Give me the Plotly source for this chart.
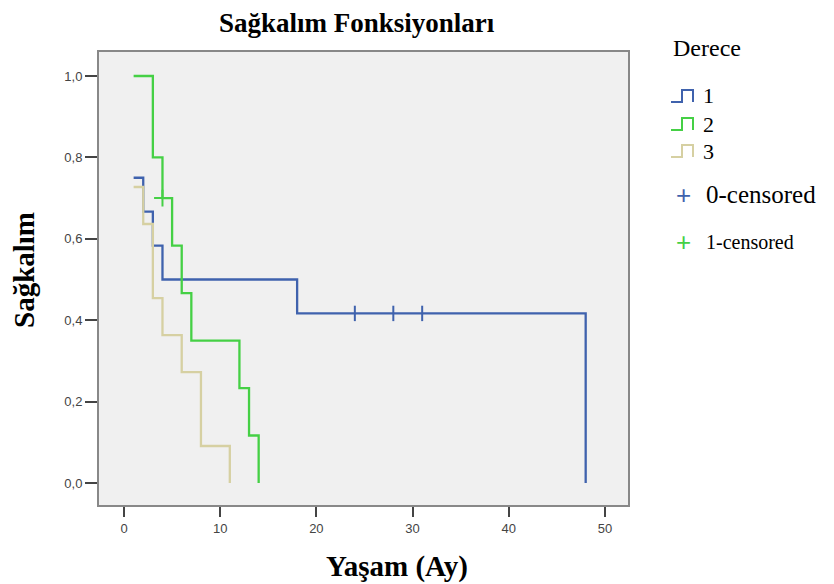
import plotly.graph_objects as go

# ---- data ----
g1_time = [1, 2, 3, 4, 18, 48]
g1_surv = [0.75, 0.6667, 0.5833, 0.5, 0.4167, 0.0]
g2_time = [1, 3, 4, 5, 6, 7, 12, 13, 14]
g2_surv = [1.0, 0.8, 0.7, 0.5833, 0.4667, 0.35, 0.2333, 0.1167, 0.0]
g3_time = [1, 2, 3, 4, 6, 8, 11]
g3_surv = [0.7273, 0.6364, 0.4545, 0.3636, 0.2727, 0.0909, 0.0]
g1_cens_time = [24, 28, 31]
g1_cens_surv = [0.4167, 0.4167, 0.4167]
g2_cens_time = [4]
g2_cens_surv = [0.7]

x_ticks = [0, 10, 20, 30, 40, 50]
y_ticks = [0.0, 0.2, 0.4, 0.6, 0.8, 1.0]
y_ticktext = ["0,0", "0,2", "0,4", "0,6", "0,8", "1,0"]

group_names = ["1", "2", "3"]
colors = ["#3f62ad", "#45d045", "#d6d0a2"]

W, H = 834, 584
L, R, T, B = 99, 628, 52, 505


def px(x):
    return (x - L) / (R - L)


def py(y):
    return (B - y) / (B - T)


fig = go.Figure()
for t, s, c, n in [(g1_time, g1_surv, colors[0], group_names[0]),
                   (g2_time, g2_surv, colors[1], group_names[1]),
                   (g3_time, g3_surv, colors[2], group_names[2])]:
    fig.add_trace(go.Scatter(x=t, y=s, mode="lines", line=dict(color=c, width=2.3, shape="hv"),
                             name=n, showlegend=False, hoverinfo="skip"))

fig.add_trace(go.Scatter(x=g1_cens_time, y=g1_cens_surv, mode="markers",
                         marker=dict(symbol="line-ns", size=11, line=dict(color=colors[0], width=2)),
                         showlegend=False, hoverinfo="skip"))
fig.add_trace(go.Scatter(x=g2_cens_time, y=g2_cens_surv, mode="markers",
                         marker=dict(symbol="cross-thin", size=12, line=dict(color=colors[1], width=2)),
                         showlegend=False, hoverinfo="skip"))

serif = "Liberation Serif"
sans = "Liberation Sans"

annotations = [
    dict(text="<b>Sağkalım Fonksiyonları</b>", x=px(357), y=py(23), xref="paper", yref="paper",
         showarrow=False, font=dict(family=serif, size=27, color="#000"), xanchor="center", yanchor="middle"),
    dict(text="<b>Yaşam (Ay)</b>", x=px(397), y=py(566), xref="paper", yref="paper",
         showarrow=False, font=dict(family=serif, size=29, color="#000"), xanchor="center", yanchor="middle"),
    dict(text="<b>Sağkalım</b>", x=px(24), y=py(270), xref="paper", yref="paper", textangle=-90,
         showarrow=False, font=dict(family=serif, size=29, color="#000"), xanchor="center", yanchor="middle"),
    dict(text="Derece", x=px(671), y=py(48), xref="paper", yref="paper",
         showarrow=False, font=dict(family=serif, size=24, color="#000"), xanchor="left", yanchor="middle"),
]

shapes = []
legend_rows = [(102, 90, 95), (130, 118, 124), (157, 145, 151)]
for (yb, yt, yc), c, n in zip(legend_rows, colors, group_names):
    path = "M {} {} L {} {} L {} {} L {} {} L {} {}".format(
        px(671), py(yb), px(682), py(yb), px(682), py(yt), px(693), py(yt), px(693), py(yb))
    shapes.append(dict(type="path", path=path, xref="paper", yref="paper",
                       line=dict(color=c, width=2)))
    annotations.append(dict(text=n, x=px(701), y=py(yc), xref="paper", yref="paper", showarrow=False,
                            font=dict(family=serif, size=22, color="#000"), xanchor="left", yanchor="middle"))

for yc, c, label, fs in [(195, colors[0], "0-censored", 25), (242, colors[1], "1-censored", 20)]:
    annotations.append(dict(text="+", x=px(683), y=py(yc), xref="paper", yref="paper", showarrow=False,
                            font=dict(family=sans, size=26, color=c), xanchor="center", yanchor="middle"))
    annotations.append(dict(text=label, x=px(704), y=py(yc), xref="paper", yref="paper", showarrow=False,
                            font=dict(family=serif, size=fs, color="#000"), xanchor="left", yanchor="middle"))

fig.update_layout(
    width=W, height=H,
    margin=dict(l=L, r=W - R, t=T, b=H - B),
    paper_bgcolor="white", plot_bgcolor="#f0f0f0",
    annotations=annotations, shapes=shapes,
    showlegend=False,
)
fig.update_xaxes(range=[-2.6, 52.4], tickvals=x_ticks, ticks="outside", ticklen=10, tickwidth=2,
                 tickcolor="#444", showgrid=False, zeroline=False, showline=True, mirror=True,
                 linecolor="#888", linewidth=2, tickfont=dict(family=sans, size=13, color="#444"))
fig.update_yaxes(range=[-0.054, 1.059], tickvals=y_ticks, ticktext=y_ticktext, ticks="outside", ticklen=12,
                 tickwidth=2, tickcolor="#444", showgrid=False, zeroline=False, showline=True, mirror=True,
                 linecolor="#888", linewidth=2, tickfont=dict(family=sans, size=13, color="#444"))

fig.write_html("out.html")
